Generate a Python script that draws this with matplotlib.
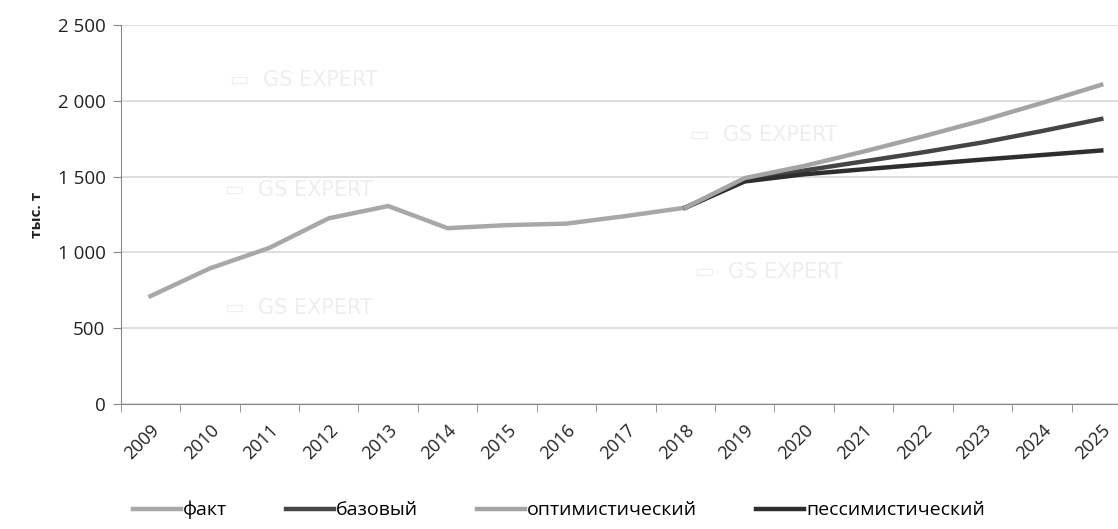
import numpy as np
import matplotlib
matplotlib.use("Agg")
import matplotlib.pyplot as plt
from matplotlib.ticker import FuncFormatter, FixedLocator

# Данные
years = [str(y) for y in range(2009, 2026)]
fakt = [712, 895, 1030, 1225, 1306, 1160, 1180, 1190, 1240, 1295]
fakt_years = years[:10]
forecast_years = years[9:]
bazovyi = [1295, 1475, 1540, 1600, 1660, 1725, 1800, 1880]
optim = [1295, 1490, 1570, 1665, 1765, 1870, 1985, 2105]
pessim = [1295, 1468, 1515, 1548, 1580, 1612, 1642, 1672]

plt.rcParams['font.family'] = ['Open Sans', 'DejaVu Sans']

fig = plt.figure(figsize=(11.18, 5.29), dpi=100)
ax = fig.add_axes([0.108, 0.236, 0.9036, 0.717])

x_all = np.arange(len(years))
x_fakt = x_all[:len(fakt)]
x_fc = x_all[len(fakt) - 1:]

# водяные знаки
for wx, wy in [(0.108, 0.855), (0.563, 0.71), (0.103, 0.565), (0.568, 0.348), (0.103, 0.253)]:
    ax.text(wx, wy, "▭  GS EXPERT", transform=ax.transAxes, fontsize=15, va='center',
            color='#eeeeee', zorder=0, family=['DejaVu Sans'])

ax.plot(x_fakt, fakt, color='#a8a8a8', lw=3.2, label='факт', zorder=3)
ax.plot(x_fc, bazovyi, color='#454545', lw=3.2, label='базовый', zorder=3)
ax.plot(x_fc, optim, color='#a4a4a4', lw=3.2, label='оптимистический', zorder=4)
ax.plot(x_fc, pessim, color='#2e2e2e', lw=3.2, label='пессимистический', zorder=3)

ax.set_xlim(-0.5, 16.5)
ax.set_ylim(0, 2500)
ax.set_yticks([0, 500, 1000, 1500, 2000, 2500])
ax.yaxis.set_major_formatter(FuncFormatter(lambda v, p: f"{int(v):,}".replace(",", " ")))
ax.grid(axis='y', color='#d9d9d9', lw=1.2)
ax.set_axisbelow(True)

ax.set_xticks(x_all)
ax.set_xticklabels(years, rotation=45, ha='right', rotation_mode='anchor', fontsize=13, color='#222222')
ax.tick_params(axis='x', which='major', length=0, pad=12)
ax.xaxis.set_minor_locator(FixedLocator(np.arange(-0.5, 17, 1)))
ax.tick_params(axis='x', which='minor', length=6, color='#888888', direction='out')
ax.tick_params(axis='y', length=6, color='#888888', labelsize=13.5, labelcolor='#222222', pad=5)

for s in ['top', 'right']:
    ax.spines[s].set_visible(False)
for s in ['left', 'bottom']:
    ax.spines[s].set_color('#888888')

ax.set_ylabel('тыс. т', fontsize=11, fontweight='bold', color='#222222', labelpad=10)

fig.legend(loc='lower center', bbox_to_anchor=(0.5, -0.015), ncol=4, frameon=False,
           fontsize=14, handlelength=2.5, handletextpad=0.1, columnspacing=3.0)

fig.savefig('out.png', dpi=100)
